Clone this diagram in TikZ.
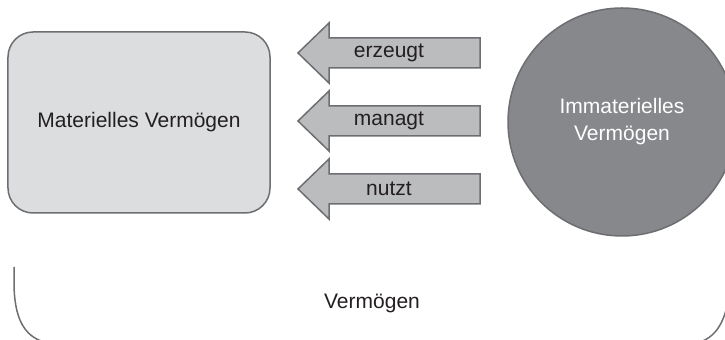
\documentclass[tikz,border=0pt]{standalone}
\usepackage{fontspec}
\setmainfont{Liberation Sans}
\usetikzlibrary{positioning}
\definecolor{rahmen}{HTML}{6D6E71}
\definecolor{hellgrau}{HTML}{DCDDDF}
\definecolor{pfeilgrau}{HTML}{BBBCBE}
\definecolor{dunkelgrau}{HTML}{87888C}
\definecolor{schrift}{HTML}{231F20}

\begin{document}
\begin{tikzpicture}[x=0.5pt, y=-0.5pt, line width=0.75pt,
    font=\fontsize{10.5}{13.5}\selectfont, text=schrift,
    kasten/.style={draw=rahmen, fill=hellgrau, rounded corners=12.5pt,
        minimum width=131pt, minimum height=90.5pt},
    kreis/.style={circle, draw=rahmen, fill=dunkelgrau, minimum size=114pt,
        text=white, align=center},
    pfeil/.style={draw=rahmen, fill=pfeilgrau, line join=miter}]
    \useasboundingbox (0,0) rectangle (725,340);
    \clip (0,0) rectangle (725,340);
    % Klammer unten
    \draw[rahmen] (14,267) -- (14,282) .. controls (14,318) and (24,336) .. (44,342)
        -- (700,342) .. controls (718,336) and (728,318) .. (731,280) -- (731,267);
    \node (verm) at (372,303) {Vermögen};
    % Bloecke
    \node[kasten] (mat) at (139,122.5) {Materielles Vermögen};
    \node[kreis] (immat) at (622,122) {Immaterielles\\Vermögen};
    % Pfeile
    \foreach \y/\wort in {53/erzeugt, 121/managt, 189/nutzt} {
        \draw[pfeil] (298,\y) -- ++(31,-30) -- ++(0,15) -- ++(151,0) -- ++(0,30)
            -- ++(-151,0) -- ++(0,15) -- cycle;
        \node (\wort) at (389,\y) {\wort};
    }
\end{tikzpicture}
\end{document}
